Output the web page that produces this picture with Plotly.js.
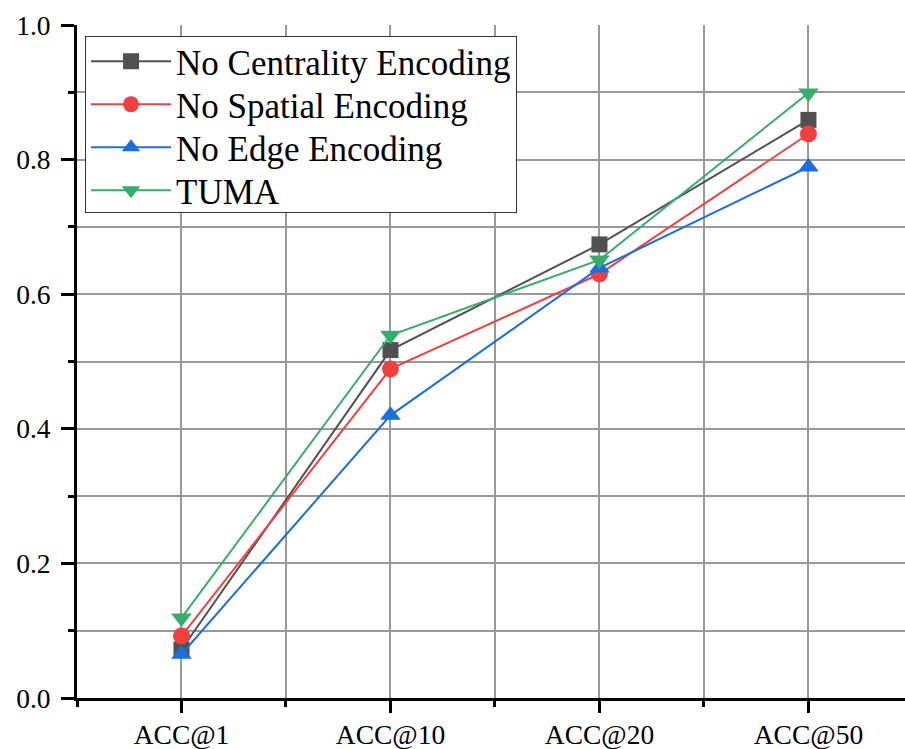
<!DOCTYPE html>
<html>
<head>
<meta charset="utf-8">
<script src="https://cdn.plot.ly/plotly-3.0.1.min.js"></script>
<style>
html,body{margin:0;padding:0;background:#fff;}
#chart{width:905px;height:749px;}
</style>
</head>
<body>
<div id="chart"></div>
<script>
const categories = ["ACC@1", "ACC@10", "ACC@20", "ACC@50"];
const seriesNames = ["No Centrality Encoding", "No Spatial Encoding", "No Edge Encoding", "TUMA"];
const noCentrality = [0.072, 0.517, 0.674, 0.859];
const noSpatial = [0.092, 0.489, 0.630, 0.838];
const noEdge = [0.065, 0.420, 0.639, 0.789];
const tuma = [0.119, 0.539, 0.651, 0.899];
const yTickVals = [0, 0.2, 0.4, 0.6, 0.8, 1.0];
const yTickText = ["0.0", "0.2", "0.4", "0.6", "0.8", "1.0"];
const yMinorVals = [0.1, 0.3, 0.5, 0.7, 0.9];

const colors = ["#515151", "#F14040", "#1A6FDF", "#37AD6B"];
const symbols = ["square", "circle", "triangle-up", "triangle-down"];
const sizes = [16, 17, 18, 18];
const allValues = [noCentrality, noSpatial, noEdge, tuma];
const xIdx = categories.map((c, i) => i);
const xMinor = [-0.5].concat(categories.map((c, i) => i + 0.5));

const traces = allValues.map((vals, k) => ({
  type: "scatter",
  mode: "lines+markers",
  name: seriesNames[k],
  x: xIdx,
  y: vals,
  line: {color: colors[k], width: 2},
  marker: {color: colors[k], symbol: symbols[k], size: sizes[k], line: {width: 0}},
  hoverinfo: "x+y"
}));

const xRange = [-0.5, 3.462];
const FAM = "Liberation Serif";

const layout = {
  width: 905, height: 749,
  margin: {l: 77, r: 0, t: 25, b: 51},
  paper_bgcolor: "#fff", plot_bgcolor: "#fff",
  font: {family: FAM, color: "#000", size: 27},
  showlegend: true,
  legend: {
    x: 0.0097, y: 0.984, xanchor: "left", yanchor: "top",
    bgcolor: "#fff", bordercolor: "#333", borderwidth: 1,
    font: {family: FAM, color: "#000", size: 35},
    itemwidth: 80, tracegroupgap: 0
  },
  xaxis: {
    type: "linear", range: xRange,
    tickmode: "array", tickvals: xIdx, ticktext: categories,
    ticks: "outside", ticklen: 12, tickwidth: 2.5, tickcolor: "#000",
    ticklabelstandoff: -2,
    showline: true, linewidth: 3, linecolor: "#000",
    showgrid: true, gridcolor: "#999999", gridwidth: 1.5,
    zeroline: false,
    tickfont: {family: FAM, color: "#000", size: 27.5},
    minor: {tickmode: "array", tickvals: xMinor, ticks: "outside", ticklen: 6, tickwidth: 2.5, tickcolor: "#000",
            showgrid: true, gridcolor: "#999999", gridwidth: 1.5}
  },
  xaxis2: {
    overlaying: "x", side: "top", type: "linear", range: xRange,
    tickmode: "array", tickvals: xIdx, showticklabels: false,
    ticks: "inside", ticklen: 12, tickwidth: 2.5, tickcolor: "#000",
    showline: true, linewidth: 3, linecolor: "#000",
    showgrid: false, zeroline: false,
    minor: {tickmode: "array", tickvals: xMinor, ticks: "inside", ticklen: 6, tickwidth: 2.5, tickcolor: "#000", showgrid: false}
  },
  yaxis: {
    range: [0, 1],
    tickmode: "array", tickvals: yTickVals, ticktext: yTickText,
    ticks: "outside", ticklen: 13, tickwidth: 2.5, tickcolor: "#000",
    ticklabelstandoff: 5,
    showline: true, linewidth: 3, linecolor: "#000",
    showgrid: true, gridcolor: "#999999", gridwidth: 1.5,
    zeroline: false,
    tickfont: {family: FAM, color: "#000", size: 27.5},
    minor: {tickmode: "array", tickvals: yMinorVals, ticks: "outside", ticklen: 6, tickwidth: 2.5, tickcolor: "#000",
            showgrid: true, gridcolor: "#999999", gridwidth: 1.5}
  },
  yaxis2: {
    overlaying: "y", side: "right", range: [0, 1],
    tickmode: "array", tickvals: yTickVals, showticklabels: false,
    ticks: "inside", ticklen: 7, tickwidth: 2.5, tickcolor: "#000",
    showline: false, showgrid: false, zeroline: false
  }
};

Plotly.newPlot("chart", traces, layout, {displayModeBar: false}).then(() => {
  // tighten legend row spacing to match the reference (43 px rows, box 176 px tall)
  const bg = document.querySelector("#chart .legend rect.bg");
  if (!bg) return;
  const bgTop = bg.getBoundingClientRect().top;
  document.querySelectorAll("#chart .legend .traces").forEach((el, i) => {
    const lp = el.querySelector(".legendlines path") || el.querySelector(".legendpoints path");
    const m = /translate\(\s*([-\d.e]+)[ ,]+([-\d.e]+)\s*\)/.exec(el.getAttribute("transform") || "");
    if (!lp || !m) return;
    const r = lp.getBoundingClientRect();
    const cy = r.top + r.height / 2;
    const target = bgTop + 25 + i * 43;
    el.setAttribute("transform", "translate(" + m[1] + "," + (parseFloat(m[2]) + target - cy) + ")");
  });
  bg.setAttribute("height", 176);
});
</script>
</body>
</html>
